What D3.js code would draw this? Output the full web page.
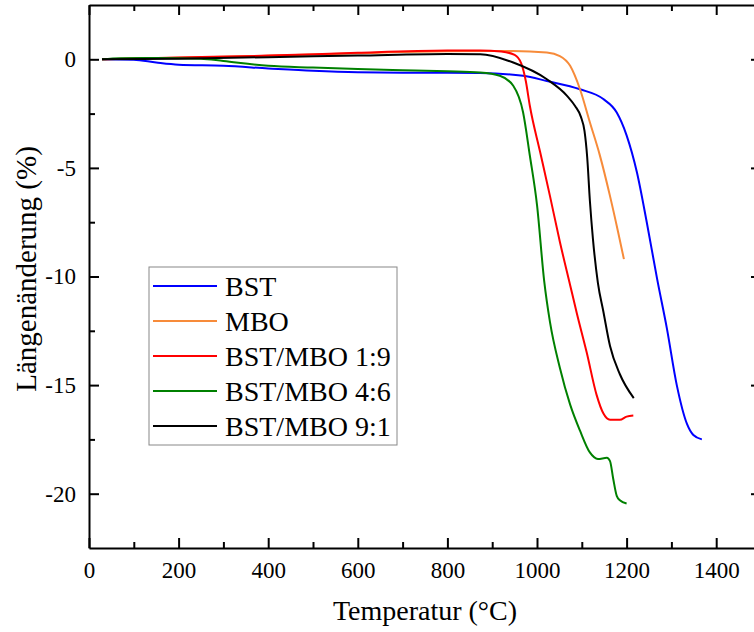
<!DOCTYPE html>
<html>
<head>
<meta charset="utf-8">
<script src="https://cdn.jsdelivr.net/npm/d3@7"></script>
<style>
    body { margin: 0; background: #fff; }
    svg { display: block; font-family: "Liberation Serif", "Times New Roman", Times, serif; }
</style>
</head>
<body>
<svg id="chart" width="754" height="632"></svg>
<script>
// Dilatometer data: temperature (°C) / length change (%)
var seriesNames = ["BST", "MBO", "BST/MBO 1:9", "BST/MBO 4:6", "BST/MBO 9:1"];
var seriesColors = ["#0000ff", "#f78b3a", "#ff0000", "#008000", "#000000"];

var bstTemp = [29, 100, 150, 200, 300, 400, 500, 600, 700, 800, 873, 969, 1022, 1096, 1148, 1178, 1200, 1223, 1245, 1268, 1290, 1312, 1335, 1349, 1368];
var bstVal = [0, -0.02, -0.15, -0.25, -0.3, -0.42, -0.53, -0.6, -0.62, -0.62, -0.63, -0.76, -1.0, -1.38, -1.83, -2.45, -3.5, -5.2, -7.5, -10.1, -12.4, -15.0, -16.8, -17.3, -17.5];

var mboTemp = [29, 200, 400, 600, 800, 946, 1022, 1051, 1074, 1096, 1118, 1140, 1163, 1181, 1194];
var mboVal = [0, 0.07, 0.16, 0.28, 0.37, 0.38, 0.31, 0.15, -0.3, -1.38, -2.9, -4.4, -6.3, -7.95, -9.2];

var mix19Temp = [29, 200, 400, 600, 800, 873, 920, 950, 965, 975, 984, 1007, 1029, 1051, 1074, 1089, 1111, 1133, 1148, 1163, 1185, 1200, 1215];
var mix19Val = [0, 0.08, 0.17, 0.3, 0.4, 0.41, 0.36, 0.2, -0.2, -1.0, -2.14, -4.27, -6.3, -8.4, -10.4, -11.7, -13.5, -15.45, -16.3, -16.6, -16.6, -16.45, -16.4];

var mix46Temp = [29, 70, 150, 250, 300, 400, 500, 600, 700, 800, 873, 917, 947, 969, 984, 1000, 1016, 1029, 1051, 1074, 1096, 1118, 1136, 1156, 1163, 1170, 1178, 1185, 1200];
var mix46Val = [0, 0.05, 0.06, 0.03, -0.08, -0.3, -0.38, -0.45, -0.5, -0.55, -0.61, -0.76, -1.22, -2.45, -4.43, -6.7, -10.2, -12.1, -14.2, -15.9, -17.1, -18.1, -18.4, -18.35, -18.5, -19.3, -20.1, -20.3, -20.45];

var mix91Temp = [29, 200, 400, 600, 800, 873, 947, 1022, 1067, 1085, 1098, 1106, 1112, 1118, 1125, 1136, 1148, 1163, 1185, 1216];
var mix91Val = [0, 0.03, 0.1, 0.17, 0.24, 0.23, -0.15, -0.92, -1.68, -2.15, -2.65, -3.3, -4.5, -6.5, -8.3, -10.3, -11.6, -13.2, -14.5, -15.6];

var xMajorTicks = [0, 200, 400, 600, 800, 1000, 1200, 1400];
var xMinorTicks = [100, 300, 500, 700, 900, 1100, 1300, 1500];
var yMajorTicks = [0, -5, -10, -15, -20];
var yMinorTicks = [-2.5, -7.5, -12.5, -17.5];

function drawDilatometerChart() {

    'use strict';

    /*global d3*/

    var svg = d3.select("#chart"),
        left = 89,
        right = 761,
        top = 5,
        bottom = 548,
        x = d3.scaleLinear().domain([0, 1500]).range([left, right]),
        y = d3.scaleLinear().domain([-22.5, 2.5]).range([bottom, top]),
        series,
        line,
        legend,
        fmt = function (d) { return String(d); };

    series = [
        {temp: bstTemp, val: bstVal},
        {temp: mboTemp, val: mboVal},
        {temp: mix19Temp, val: mix19Val},
        {temp: mix46Temp, val: mix46Val},
        {temp: mix91Temp, val: mix91Val}
    ].map(function (s, i) {
        return {
            name: seriesNames[i],
            color: seriesColors[i],
            points: s.temp.map(function (t, j) { return [t, s.val[j]]; })
        };
    });

    line = d3.line()
        .x(function (d) { return x(d[0]); })
        .y(function (d) { return y(d[1]); })
        .curve(d3.curveMonotoneX);

    // curves first, the frame goes on top
    svg.append("g")
        .selectAll("path")
        .data(series)
        .enter()
        .append("path")
        .attr("d", function (d) { return line(d.points); })
        .attr("fill", "none")
        .attr("stroke", function (d) { return d.color; })
        .attr("stroke-width", 2)
        .attr("stroke-linejoin", "round");

    //
    // Axes: labels on bottom/left, mirrored ticks top/right, all ticks inward
    //
    function styleAxis(g) {
        g.select(".domain").attr("stroke", "#000").attr("stroke-width", 2);
        g.selectAll(".tick line").attr("stroke", "#000").attr("stroke-width", 2);
        g.selectAll("text").attr("fill", "#000").style("font-size", "23px")
            .style("font-family", "'Liberation Serif', 'Times New Roman', Times, serif");
    }

    function noDomain(g) {
        g.select(".domain").remove();
    }

    svg.append("g")
        .attr("transform", "translate(0," + bottom + ")")
        .call(d3.axisBottom(x).tickValues(xMajorTicks).tickSizeInner(-10).tickSizeOuter(0)
            .tickPadding(14).tickFormat(fmt))
        .call(styleAxis);
    svg.append("g")
        .attr("transform", "translate(0," + bottom + ")")
        .call(d3.axisBottom(x).tickValues(xMinorTicks).tickSizeInner(-6).tickSizeOuter(0).tickFormat(""))
        .call(styleAxis)
        .call(noDomain);

    svg.append("g")
        .attr("transform", "translate(0," + top + ")")
        .call(d3.axisTop(x).tickValues(xMajorTicks).tickSizeInner(-10).tickSizeOuter(0).tickFormat(""))
        .call(styleAxis);
    svg.append("g")
        .attr("transform", "translate(0," + top + ")")
        .call(d3.axisTop(x).tickValues(xMinorTicks).tickSizeInner(-6).tickSizeOuter(0).tickFormat(""))
        .call(styleAxis)
        .call(noDomain);

    svg.append("g")
        .attr("transform", "translate(" + left + ",0)")
        .call(d3.axisLeft(y).tickValues(yMajorTicks).tickSizeInner(-10).tickSizeOuter(0)
            .tickPadding(13).tickFormat(fmt))
        .call(styleAxis);
    svg.append("g")
        .attr("transform", "translate(" + left + ",0)")
        .call(d3.axisLeft(y).tickValues(yMinorTicks).tickSizeInner(-6).tickSizeOuter(0).tickFormat(""))
        .call(styleAxis)
        .call(noDomain);

    svg.append("g")
        .attr("transform", "translate(" + right + ",0)")
        .call(d3.axisRight(y).tickValues(yMajorTicks).tickSizeInner(-10).tickSizeOuter(0).tickFormat(""))
        .call(styleAxis);
    svg.append("g")
        .attr("transform", "translate(" + right + ",0)")
        .call(d3.axisRight(y).tickValues(yMinorTicks).tickSizeInner(-6).tickSizeOuter(0).tickFormat(""))
        .call(styleAxis)
        .call(noDomain);

    // axis titles
    svg.append("text")
        .attr("x", (left + right) / 2)
        .attr("y", 620)
        .attr("text-anchor", "middle")
        .style("font-size", "28px")
        .text("Temperatur (°C)");

    svg.append("text")
        .attr("transform", "translate(36,269) rotate(-90)")
        .attr("text-anchor", "middle")
        .style("font-size", "29px")
        .text("Längenänderung (%)");

    //
    // Legend box
    //
    legend = svg.append("g").attr("transform", "translate(149,267)");
    legend.append("rect")
        .attr("width", 248)
        .attr("height", 178)
        .attr("fill", "#fff")
        .attr("stroke", "#888")
        .attr("stroke-width", 1);

    legend.selectAll("g.item")
        .data(series)
        .enter()
        .append("g")
        .attr("class", "item")
        .attr("transform", function (d, i) { return "translate(0," + (19 + i * 35) + ")"; })
        .each(function (d) {
            var item = d3.select(this);
            item.append("line")
                .attr("x1", 4)
                .attr("x2", 68)
                .attr("stroke", d.color)
                .attr("stroke-width", 2);
            item.append("text")
                .attr("x", 76)
                .attr("dy", "0.35em")
                .style("font-size", "28px")
                .text(d.name);
        });
}

drawDilatometerChart();
</script>
</body>
</html>
